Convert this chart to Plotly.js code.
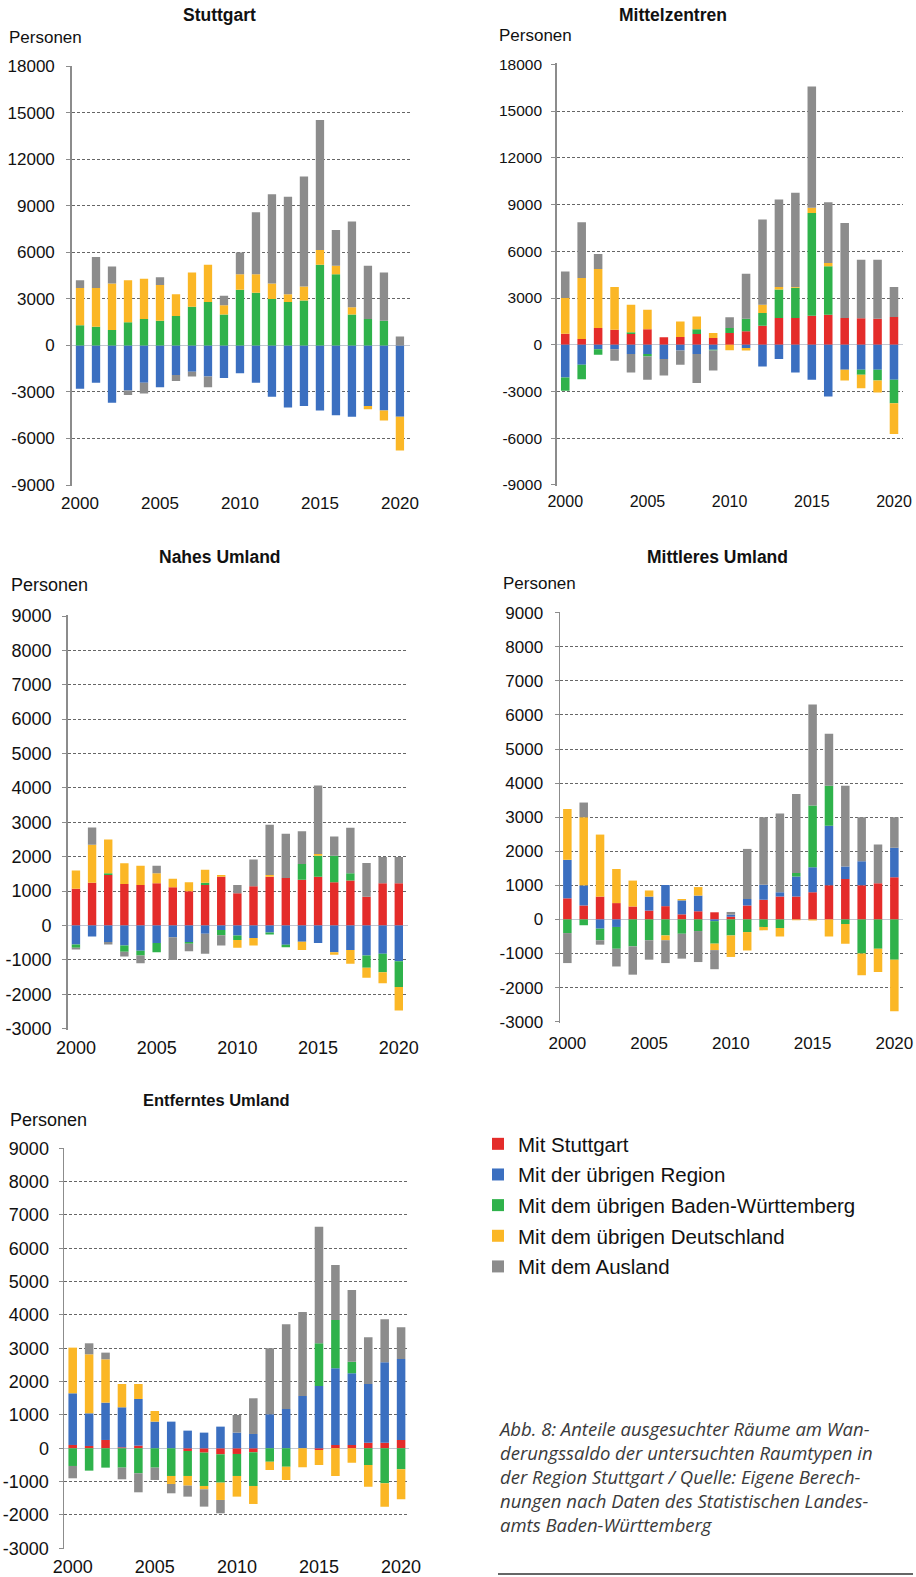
<!DOCTYPE html>
<html><head><meta charset="utf-8">
<script src="https://cdn.plot.ly/plotly-3.0.1.min.js"></script>
<style>html,body{margin:0;padding:0;background:#fff;} #chart{width:916px;height:1577px;}</style>
</head><body><div id="chart"></div>
<script>
// ---------- DATA ----------
const years = [2000,2001,2002,2003,2004,2005,2006,2007,2008,2009,2010,2011,2012,2013,2014,2015,2016,2017,2018,2019,2020];
const xTickVals = [2000,2005,2010,2015,2020];
const xTickText = ["2000","2005","2010","2015","2020"];
const yTicksLarge = [-9000,-6000,-3000,0,3000,6000,9000,12000,15000,18000];
const yTicksLargeText = ["-9000","-6000","-3000","0","3000","6000","9000","12000","15000","18000"];
const yTicksSmall = [-3000,-2000,-1000,0,1000,2000,3000,4000,5000,6000,7000,8000,9000];
const yTicksSmallText = ["-3000","-2000","-1000","0","1000","2000","3000","4000","5000","6000","7000","8000","9000"];
const seriesNames = ["Mit Stuttgart","Mit der übrigen Region","Mit dem übrigen Baden-Württemberg","Mit dem übrigen Deutschland","Mit dem Ausland"];
const panelTitles = ["Stuttgart","Mittelzentren","Nahes Umland","Mittleres Umland","Entferntes Umland"];
const yAxisLabel = "Personen";

// Stuttgart
const stuttgart_stuttgart = [0,0,0,0,0,0,0,0,0,0,0,0,0,0,0,0,0,0,0,0,0];
const stuttgart_region    = [-2800,-2400,-3700,-2900,-2400,-2700,-1900,-1700,-2000,-2100,-1800,-2400,-3300,-4000,-3900,-4200,-4500,-4600,-3900,-4200,-4600];
const stuttgart_bw        = [1300,1200,1000,1500,1700,1600,1900,2500,2800,2000,3600,3400,3000,2800,2900,5200,4600,2000,1700,1600,0];
const stuttgart_de        = [2400,2500,3000,2700,2600,2300,1400,2200,2400,600,1000,1200,1000,500,900,950,540,460,-210,-640,-2180];
const stuttgart_ausland   = [500,2000,1100,-300,-700,500,-400,-300,-700,600,1400,4000,5750,6300,7100,8400,2300,5540,3440,3110,580];

// Mittelzentren
const mittelz_stuttgart = [700,370,1070,960,690,1000,490,500,690,430,750,860,1220,1710,1710,1860,1930,1710,1700,1670,1780];
const mittelz_region    = [-2100,-1290,-280,-280,-600,-600,-920,-360,-600,-320,0,-200,-1390,-920,-1780,-2250,-3320,-1610,-1610,-1600,-2250];
const mittelz_bw        = [-850,-920,-360,0,110,-150,0,0,300,-50,320,810,820,1830,1950,6600,3110,0,-320,-690,-1500];
const mittelz_de        = [2300,3920,3790,2740,1770,1250,0,1000,830,320,-350,-160,530,160,40,330,210,-680,-860,-770,-1970];
const mittelz_ausland   = [1710,3570,970,-750,-1180,-1500,-1050,-930,-1860,-1280,690,2890,5470,5620,6050,7780,3900,6110,3760,3790,1930];

// Nahes Umland
const nahes_stuttgart = [1070,1240,1470,1210,1180,1230,1110,1000,1180,1420,940,1140,1420,1380,1330,1420,1260,1310,840,1230,1230];
const nahes_region    = [-550,-320,-480,-580,-730,-510,-340,-480,-240,-130,-290,-360,-200,-560,-470,-510,-780,-710,-870,-820,-1040];
const nahes_bw        = [-100,0,50,-180,-140,-270,0,-50,60,-150,-130,0,-60,-70,460,610,770,210,-360,-540,-750];
const nahes_de        = [530,1110,980,600,560,290,250,260,380,50,-230,-220,50,0,-240,50,-70,-400,-290,-320,-680];
const nahes_ausland   = [-50,500,-70,-140,-230,220,-660,-220,-580,-300,240,780,1460,1290,950,1990,560,1320,980,760,760];

// Mittleres Umland
const mittleres_stuttgart = [620,410,670,480,380,260,390,150,240,210,80,410,580,670,670,800,1000,1190,1000,1060,1240];
const mittleres_region    = [1130,590,-270,-220,0,410,620,410,460,-50,60,190,440,130,590,730,1750,360,710,0,860];
const mittleres_bw        = [-400,-170,-340,-640,-790,-610,-470,-420,-340,-660,-470,-370,-220,-250,100,1810,1170,-130,-1000,-860,-1180];
const mittleres_de        = [1490,2000,1820,1000,760,180,-140,40,250,-190,-630,-540,-100,-250,-20,-30,-500,-580,-640,-680,-1510];
const mittleres_ausland   = [-880,430,-130,-520,-830,-570,-670,-730,-910,-560,80,1470,1980,2310,2320,2970,1530,2370,1290,1140,900];

// Entferntes Umland
const entfernt_stuttgart = [100,70,250,30,80,0,0,-80,-130,-180,-170,-120,0,0,0,-50,100,100,170,170,250];
const entfernt_region    = [1550,980,1120,1200,1400,800,800,530,470,650,470,430,1020,1180,1570,1870,2300,2150,1760,2410,2430];
const entfernt_bw        = [-530,-670,-580,-580,-750,-580,-830,-750,-1000,-850,-660,-1010,-400,-550,0,1280,1450,350,-500,-1050,-630];
const entfernt_de        = [1370,1770,1300,700,450,320,-240,-290,-100,-520,-620,-540,-250,-400,-570,-450,-830,-430,-650,-700,-900];
const entfernt_ausland   = [-370,330,200,-350,-570,-370,-280,-330,-520,-400,530,1070,1980,2540,2520,3500,1650,2150,1400,1290,950];

const captionLines = [
  "Abb. 8: Anteile ausgesuchter Räume am Wan-",
  "derungssaldo der untersuchten Raumtypen in",
  "der Region Stuttgart / Quelle: Eigene Berech-",
  "nungen nach Daten des Statistischen Landes-",
  "amts Baden-Württemberg"
];

// ---------- STYLE / LAYOUT ----------
const W = 916, H = 1577;
const FONT = "Liberation Sans, Arial, Helvetica, sans-serif";
const seriesColors = ["#e42c2a","#3b6fc0","#2fb24b","#fbb726","#8c8c8c"];

const panels = [
  {data:[stuttgart_stuttgart,stuttgart_region,stuttgart_bw,stuttgart_de,stuttgart_ausland],
   box:[71.7,410,66.4,485], xr:[1999.48,2020.63], yr:[-9000,18000], tv:yTicksLarge, tt:yTicksLargeText,
   yfs:17, xfs:17, ys:8, xs:5, title:[219,15], tfs:17.5, lab:[7,37], lfs:17},
  {data:[mittelz_stuttgart,mittelz_region,mittelz_bw,mittelz_de,mittelz_ausland],
   box:[556.7,902.7,64.3,485], xr:[1999.48,2020.53], yr:[-9000,18000], tv:yTicksLarge, tt:yTicksLargeText,
   yfs:15.5, xfs:16, ys:6, xs:4, title:[673,15], tfs:17.5, lab:[497,35], lfs:17},
  {data:[nahes_stuttgart,nahes_region,nahes_bw,nahes_de,nahes_ausland],
   box:[67.7,408,616,1028.7], xr:[1999.49,2020.57], yr:[-3000,9000], tv:yTicksSmall, tt:yTicksSmallText,
   yfs:18, xfs:18, ys:7, xs:5, title:[220,557], tfs:17.5, lab:[9,585], lfs:18},
  {data:[mittleres_stuttgart,mittleres_region,mittleres_bw,mittleres_de,mittleres_ausland],
   box:[560,902.7,612.7,1021.7], xr:[1999.55,2020.51], yr:[-3000,9000], tv:yTicksSmall, tt:yTicksSmallText,
   yfs:17, xfs:17, ys:8, xs:8, title:[717,557], tfs:17.5, lab:[501,583], lfs:17},
  {data:[entfernt_stuttgart,entfernt_region,entfernt_bw,entfernt_de,entfernt_ausland],
   box:[64,409.3,1148.3,1548.3], xr:[1999.47,2020.5], yr:[-3000,9000], tv:yTicksSmall, tt:yTicksSmallText,
   yfs:18, xfs:18, ys:6, xs:5, title:[216,1100], tfs:16.5, lab:[8,1120], lfs:18}
];

const traces = [];
const annotations = [];
const layout = {
  width: W, height: H,
  margin: {l:0, r:0, t:0, b:0, pad:0},
  paper_bgcolor: "#ffffff", plot_bgcolor: "#ffffff",
  barmode: "relative", bargap: 0.48,
  font: {family: FONT, color: "#111"},
  showlegend: true,
  legend: {x: 478/W, xanchor: "left", y: 1 - 1124/H, yanchor: "top",
           font: {family: FONT, size: 20.5, color: "#111"},
           bgcolor: "rgba(0,0,0,0)", borderwidth: 0, traceorder: "grouped", tracegroupgap: 1},
  annotations: annotations,
  shapes: [{type:"line", xref:"paper", yref:"paper", x0:498/W, x1:913/W, y0:1-1574/H, y1:1-1574/H,
            line:{color:"#333", width:1.5}}]
};

panels.forEach((P, i) => {
  const n = i === 0 ? "" : String(i + 1);
  const [x0, x1, yTop, yBot] = P.box;
  const span = P.yr[1] - P.yr[0];
  const pxPerUnit = (yBot - yTop) / span;
  const pad = span * 0.002;
  const yTopPx = yTop - pad * pxPerUnit, yBotPx = yBot + pad * pxPerUnit;
  layout["xaxis" + n] = {
    domain: [x0 / W, x1 / W], range: P.xr, anchor: "y" + n,
    tickmode: "array", tickvals: xTickVals, ticktext: xTickText,
    ticks: "", showgrid: false, zeroline: false, showline: false, fixedrange: true,
    tickfont: {family: FONT, size: P.xfs, color: "#111"}, ticklabelstandoff: P.xs
  };
  layout["yaxis" + n] = {
    domain: [1 - yBotPx / H, 1 - yTopPx / H], range: [P.yr[0] - pad, P.yr[1] + pad], anchor: "x" + n,
    tickmode: "array", tickvals: P.tv, ticktext: P.tt, fixedrange: true,
    showgrid: true, gridcolor: "#666", griddash: "3px,2px", gridwidth: 1,
    zeroline: true, zerolinecolor: "#c3c8d2", zerolinewidth: 1,
    showline: true, linecolor: "#8c8c8c", linewidth: 1.5,
    ticks: "outside", ticklen: 4, tickcolor: "#8c8c8c", tickwidth: 1,
    tickfont: {family: FONT, size: P.yfs, color: "#111"}, ticklabelstandoff: P.ys
  };
  P.data.forEach((vals, s) => {
    traces.push({
      type: "bar", x: years, y: vals, xaxis: "x" + n, yaxis: "y" + n,
      name: seriesNames[s], legendgroup: "g" + s,
      marker: {color: seriesColors[s], line: {width: 0}},
      showlegend: i === 1, hoverinfo: "skip"
    });
  });
  annotations.push({xref:"paper", yref:"paper", x: P.title[0]/W, y: 1 - P.title[1]/H,
    xanchor:"center", yanchor:"middle", showarrow:false, text:"<b>" + panelTitles[i] + "</b>",
    font:{family: FONT, size: P.tfs, color:"#111"}});
  annotations.push({xref:"paper", yref:"paper", x: P.lab[0]/W, y: 1 - P.lab[1]/H,
    xanchor:"left", yanchor:"middle", showarrow:false, text: yAxisLabel,
    font:{family: FONT, size: P.lfs, color:"#111"}});
});

annotations.push({xref:"paper", yref:"paper", x: 496/W, y: 1 - 1476/H,
  xanchor:"left", yanchor:"middle", align:"left", showarrow:false, text: captionLines.join("<br>"),
  font:{family:"Open Sans, Noto Sans, sans-serif", size:18.5, color:"#3a3a3a", style:"italic"}});

Plotly.newPlot("chart", traces, layout, {displayModeBar:false, staticPlot:true});
</script>
</body></html>
